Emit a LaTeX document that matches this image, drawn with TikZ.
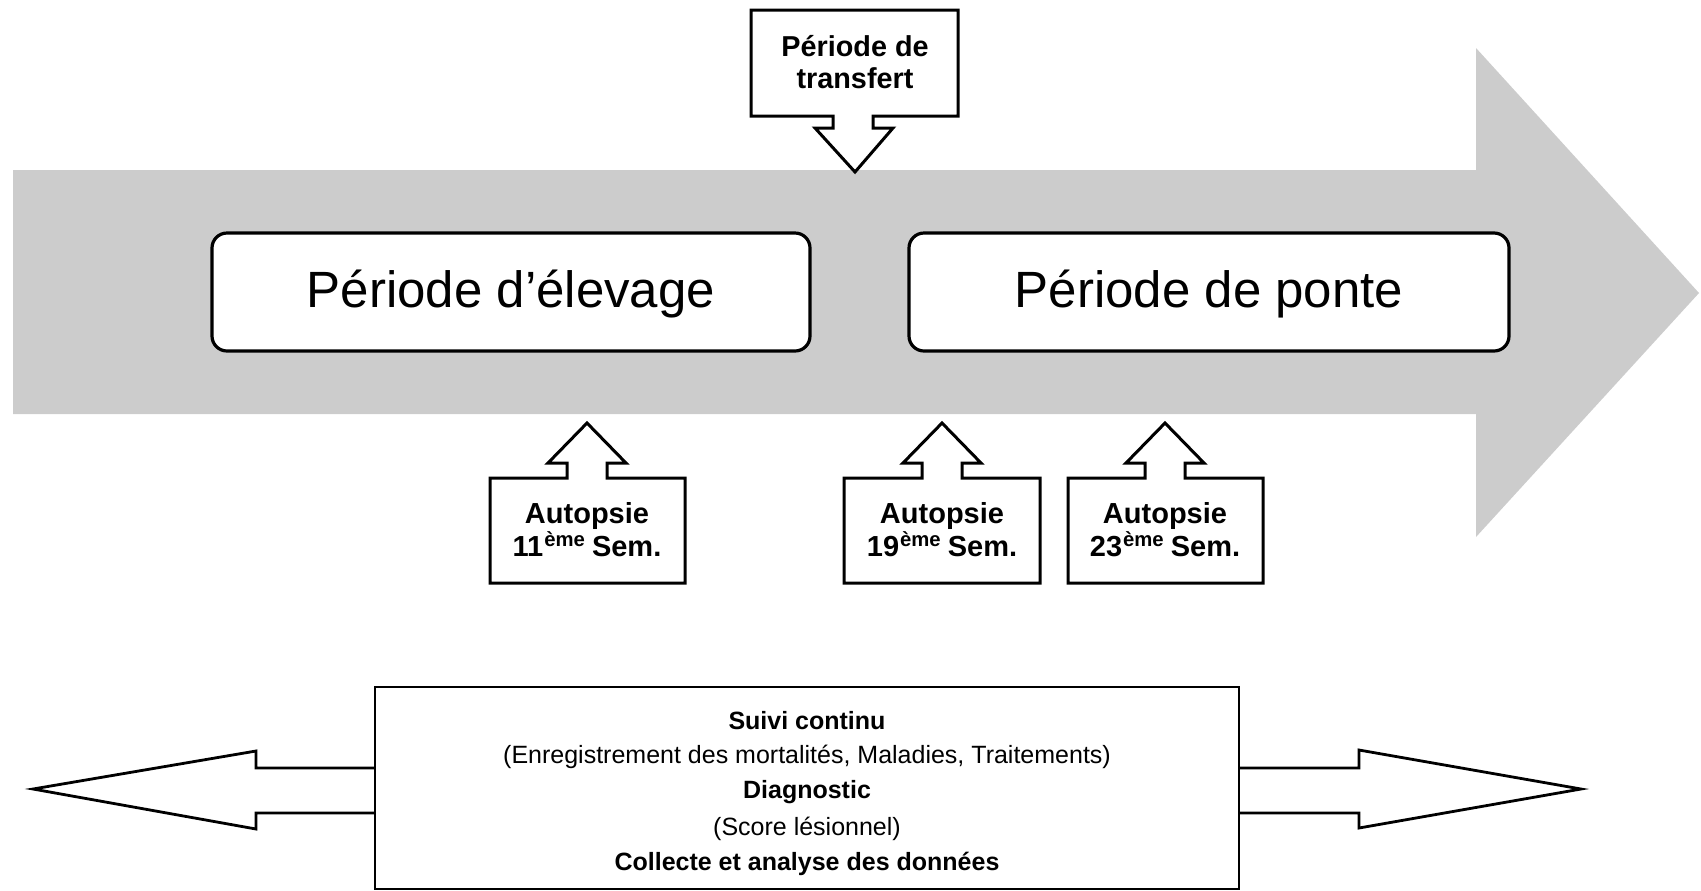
\documentclass[tikz,border=0pt]{standalone}
\usepackage{fontspec}
\setmainfont{Liberation Sans}
\definecolor{arrowgray}{RGB}{204,204,204}
\newcommand{\eme}{\textsuperscript{\kern0.5pt ème}\kern-1pt}
\begin{document}
\begin{tikzpicture}[x=0.5pt,y=-0.5pt,
  callout/.style={draw=black,line width=1.5pt,fill=white,line join=miter},
  roundbox/.style={draw=black,line width=1.6pt,fill=white,rounded corners=7.5pt},
  bigtext/.style={font=\fontsize{25.5}{30}\selectfont,anchor=center,inner sep=0pt},
  calltext/.style={font=\fontsize{14.5}{16.5}\selectfont\bfseries,align=center,anchor=center,inner sep=0pt},
  bottomtext/.style={font=\fontsize{12.5}{14}\selectfont,anchor=center,inner sep=0pt},
  dblarrow/.style={draw=black,line width=1.4pt,line join=miter}]
\useasboundingbox (0,0) rectangle (1701,890);
% big gray arrow
\fill[arrowgray] (13,170) -- (1476,170) -- (1476,48) -- (1699,293) -- (1476,537) -- (1476,414) -- (13,414) -- cycle;
% period boxes
\draw[roundbox] (212,233) rectangle (810,351);
\node[bigtext] (elev) at (511,294) {Période d’élevage};
\draw[roundbox] (909,233) rectangle (1509,351);
\node[bigtext] (ponte) at (1209,294) {Période de ponte};
% transfer callout
\draw[callout] (751,10) -- (958,10) -- (958,116) -- (873,116) -- (873,128) -- (893,128) -- (855,172) -- (815,128) -- (833,128) -- (833,116) -- (751,116) -- cycle;
\node[calltext,font=\fontsize{14.4}{16.2}\selectfont\bfseries] (transf) at (855,62) {Période de\\transfert};
% autopsy callouts
\foreach \xa/\xb/\cx in {490/685/587, 844/1040/942, 1068/1263/1165}{
  \draw[callout] (\xa,583) -- (\xa,478) -- (\cx-20,478) -- (\cx-20,463) -- (\cx-39,463) -- (\cx,423) -- (\cx+39,463) -- (\cx+20,463) -- (\cx+20,478) -- (\xb,478) -- (\xb,583) -- cycle;
}
\node[calltext] (a11) at (587,530) {Autopsie\\11\eme{} Sem.};
\node[calltext] (a19) at (942,530) {Autopsie\\19\eme{} Sem.};
\node[calltext] (a23) at (1165,530) {Autopsie\\23\eme{} Sem.};
% bottom box with double arrow
\draw[dblarrow,fill=white] (375,687) rectangle (1239,889);
\draw[dblarrow] (375,768) -- (256,768) -- (256,751) -- (33,789) -- (256,829) -- (256,813) -- (375,813);
\draw[dblarrow] (1239,768) -- (1359,768) -- (1359,750) -- (1581,789) -- (1359,828) -- (1359,813) -- (1239,813);
\node[bottomtext,font=\fontsize{12.5}{14}\selectfont\bfseries] (suivi) at (807,721) {Suivi continu};
\node[bottomtext] (enreg) at (807,757) {(Enregistrement des mortalités, Maladies, Traitements)};
\node[bottomtext,font=\fontsize{12.5}{14}\selectfont\bfseries] (diag) at (807,792) {Diagnostic};
\node[bottomtext] (score) at (807,829) {(Score lésionnel)};
\node[bottomtext,font=\fontsize{12.5}{14}\selectfont\bfseries] (coll) at (807,864) {Collecte et analyse des données};
\end{tikzpicture}
\end{document}
